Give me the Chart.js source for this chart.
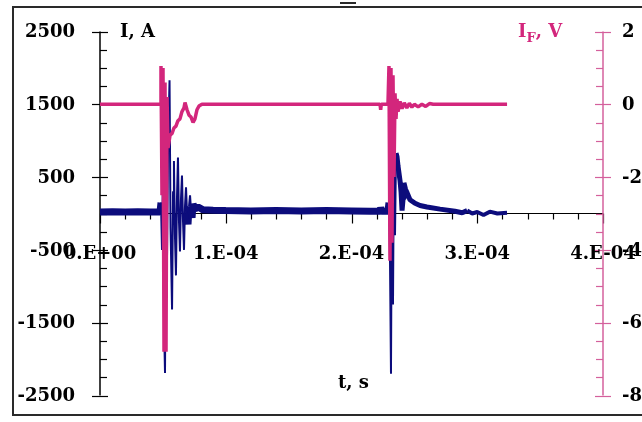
<!DOCTYPE html>
<html>
<head>
<meta charset="utf-8">
<title>I and I_F vs t</title>
<script src="https://cdn.jsdelivr.net/npm/chart.js@4/dist/chart.umd.min.js"></script>
<style>
  html, body { margin: 0; padding: 0; background: #fff; }
  #wrap { width: 642px; height: 422px; }
</style>
</head>
<body>
<div id="wrap"><canvas id="scope" width="642" height="422"></canvas></div>
<script>
// time in microseconds (axis labelled in seconds)
const currentTimes = [0, 10, 20, 30, 40, 47.7, 48.5, 49.3, 50.1, 50.9, 51.7, 52.5, 53.3, 54.1,
  55.3, 56.1, 57.3, 58.1, 58.8, 59.6, 60.4, 61.2, 62.0, 62.8, 63.6, 64.4, 65.2, 66.0, 66.8, 67.6,
  68.4, 69.2, 70.0, 70.8, 71.6, 72.4, 73.2, 74.0, 75.5, 78, 82, 90, 100, 120, 140, 160, 180, 200,
  215, 222.7, 223.2, 223.7, 229.0, 229.8, 230.6, 231.4, 232.2, 233.0, 233.8, 234.6, 235.4, 236.2,
  237.0, 238.6, 239.4, 240.2, 241.0, 241.7, 243.0, 244.1, 246.5, 250.5, 254.5, 260.0, 270.4, 282.3,
  288, 292, 296, 300, 305, 310, 316, 323.7];
const currentAmps = [20, 25, 20, 25, 20, 20, 150, -500, 600, -1500, -2190, 300, -600, 900,
  1830, -200, -1320, 300, 720, -300, -850, 200, 770, -100, -520, 200, 520, -100, -500, 100,
  360, 0, -150, 100, 250, 40, -60, 130, 60, 90, 50, 45, 40, 35, 40, 35, 40, 35,
  30, 30, 90, 30, 30, 150, -600, -2200, 900, -1250, 1000, -300, 830, 780,
  650, 450, 300, 40, 200, 420, 330, 290, 190, 140, 110, 90, 60, 30,
  10, 40, 0, 20, -20, 25, 0, 10];

const voltageTimes = [0, 48.0, 48.5, 49.3, 50.1, 50.9, 51.7, 52.5, 53.3, 54.1, 55.7, 57.3, 58.8,
  60.4, 62.0, 63.6, 65.2, 66.8, 67.6, 69.2, 70.8, 72.4, 74.0, 75.5, 77.1, 78.7, 81.1, 222.7, 223.2,
  223.7, 229.0, 229.8, 230.6, 231.4, 232.2, 233.0, 233.8, 234.6, 235.4, 236.2, 237.0, 238.6, 240.2,
  242.0, 244.0, 246.0, 248.0, 250.0, 253.0, 256.0, 259.0, 262.0, 265.0, 323.7];
const voltageValues = [0, 0, 1.05, -2.5, 1.0, -6.8, 0.6, -6.8, 0.2, -1.2, -0.85, -0.8, -0.65,
  -0.6, -0.45, -0.4, -0.2, -0.1, 0.05, -0.15, -0.3, -0.35, -0.5, -0.4, -0.15, -0.05, 0, 0, -0.15,
  0, 0, 1.05, -4.3, 1.0, -3.8, 0.8, -2.0, 0.3, -0.4, 0.15, -0.2, 0.08, -0.12,
  0.04, -0.1, 0.03, -0.08, 0, -0.07, 0, -0.06, 0.02, 0, 0];

const xTickValues = [0, 100, 200, 300, 400];
const xTickLabels = ['0.E+00', '1.E-04', '2.E-04', '3.E-04', '4.E-04'];
const currentTicks = [2500, 1500, 500, -500, -1500, -2500];
const voltageTicks = [2, 0, -2, -4, -6, -8];

const PINK = '#d3267c';
const PINK_AXIS = '#d4609c';
const NAVY = '#0c0c7c';
const FONT = 'bold 18px "DejaVu Serif", "Liberation Serif", serif';

const currentPoints = currentTimes.map((t, i) => ({ x: t, y: currentAmps[i] }));
const voltagePoints = voltageTimes.map((t, i) => ({ x: t, y: voltageValues[i] }));

function seg(ctx, x1, y1, x2, y2) {
  ctx.beginPath();
  ctx.moveTo(x1, y1);
  ctx.lineTo(x2, y2);
  ctx.stroke();
}

// dense trace looks like a band: thick where the signal sits near zero or decays
function currentWidth(c) {
  const t = c.p0.parsed.x;
  if (t >= 235 && t < 290) return 5;
  if (Math.abs(c.p0.parsed.y) < 160 && Math.abs(c.p1.parsed.y) < 160) return t > 262 ? 4 : 7;
  return 2;
}

const scopeAxes = {
  id: 'scopeAxes',
  beforeDatasetsDraw(chart) {
    const { ctx } = chart;
    const { x, y, y1 } = chart.scales;
    const yZero = y.getPixelForValue(0);
    ctx.save();

    // time axis through I = 0
    ctx.strokeStyle = '#000';
    ctx.lineWidth = 1.2;
    seg(ctx, x.left, yZero, x.right, yZero);
    for (let t = 0; t <= 400; t += 20) {
      const px = Math.round(x.getPixelForValue(t)) + 0.5;
      const major = xTickValues.includes(t);
      seg(ctx, px, yZero, px, yZero + (major ? 10 : 6));
    }

    // current axis (left)
    ctx.lineWidth = 1.5;
    seg(ctx, x.left, y.top, x.left, y.bottom);
    ctx.lineWidth = 1.2;
    for (let v = -2500; v <= 2500; v += 250) {
      const py = Math.round(y.getPixelForValue(v)) + 0.5;
      if (currentTicks.includes(v)) seg(ctx, x.left - 8, py, x.left + 8, py);
      else seg(ctx, x.left, py, x.left + 7, py);
    }

    // voltage axis (right)
    ctx.strokeStyle = PINK_AXIS;
    ctx.lineWidth = 1.5;
    seg(ctx, x.right, y1.top, x.right, y1.bottom);
    ctx.lineWidth = 1.2;
    for (let v = -8; v <= 2; v += 0.5) {
      const py = Math.round(y1.getPixelForValue(v)) + 0.5;
      if (voltageTicks.includes(v)) seg(ctx, x.right - 8, py, x.right + 8, py);
      else seg(ctx, x.right - 7, py, x.right, py);
    }
    ctx.restore();
  },
  afterDatasetsDraw(chart) {
    const { ctx } = chart;
    const { x, y, y1 } = chart.scales;
    const yZero = y.getPixelForValue(0);
    ctx.save();
    ctx.font = FONT;
    ctx.fillStyle = '#000';
    ctx.textBaseline = 'middle';

    ctx.textAlign = 'right';
    currentTicks.forEach(v => ctx.fillText(String(v), x.left - 25, y.getPixelForValue(v) + 1));

    ctx.textAlign = 'left';
    voltageTicks.forEach(v => ctx.fillText(String(v), x.right + 19, y1.getPixelForValue(v) + 1));

    ctx.textAlign = 'center';
    xTickValues.forEach((t, i) => ctx.fillText(xTickLabels[i], x.getPixelForValue(t), yZero + 41));

    // axis titles
    ctx.textAlign = 'left';
    ctx.fillText('I, A', x.left + 20, y.top + 1);
    ctx.textAlign = 'center';
    ctx.fillText('t, s', x.getPixelForValue(200) + 2, y.bottom - 12);

    ctx.fillStyle = PINK;
    ctx.textAlign = 'left';
    let px = 518;
    ctx.fillText('I', px, y.top + 1);
    px += ctx.measureText('I').width;
    ctx.font = 'bold 13px "DejaVu Serif", serif';
    ctx.fillText('F', px, y.top + 7);
    px += ctx.measureText('F').width;
    ctx.font = FONT;
    ctx.fillText(', V', px, y.top + 1);

    // outer frame and the cut-off mark above it
    ctx.strokeStyle = '#2a2a2a';
    ctx.lineWidth = 2;
    ctx.strokeRect(13, 7, 700, 408);
    seg(ctx, 340, 3, 356, 3);
    ctx.restore();
  }
};

new Chart(document.getElementById('scope').getContext('2d'), {
  type: 'line',
  data: {
    datasets: [
      {
        label: 'IF, V',
        data: voltagePoints,
        yAxisID: 'y1',
        borderColor: PINK,
        borderWidth: 3.5,
        order: 0
      },
      {
        label: 'I, A',
        data: currentPoints,
        yAxisID: 'y',
        borderColor: NAVY,
        borderWidth: 2,
        order: 1,
        segment: { borderWidth: currentWidth }
      }
    ]
  },
  options: {
    responsive: false,
    animation: false,
    layout: { padding: { left: 100, right: 39, top: 31.5, bottom: 26.5 } },
    elements: {
      point: { radius: 0 },
      line: { tension: 0, borderJoinStyle: 'bevel', fill: false }
    },
    plugins: { legend: { display: false }, tooltip: { enabled: false } },
    scales: {
      x: { type: 'linear', min: 0, max: 400, display: false },
      y: { min: -2500, max: 2500, display: false },
      y1: { min: -8, max: 2, display: false }
    }
  },
  plugins: [scopeAxes]
});
</script>
</body>
</html>
